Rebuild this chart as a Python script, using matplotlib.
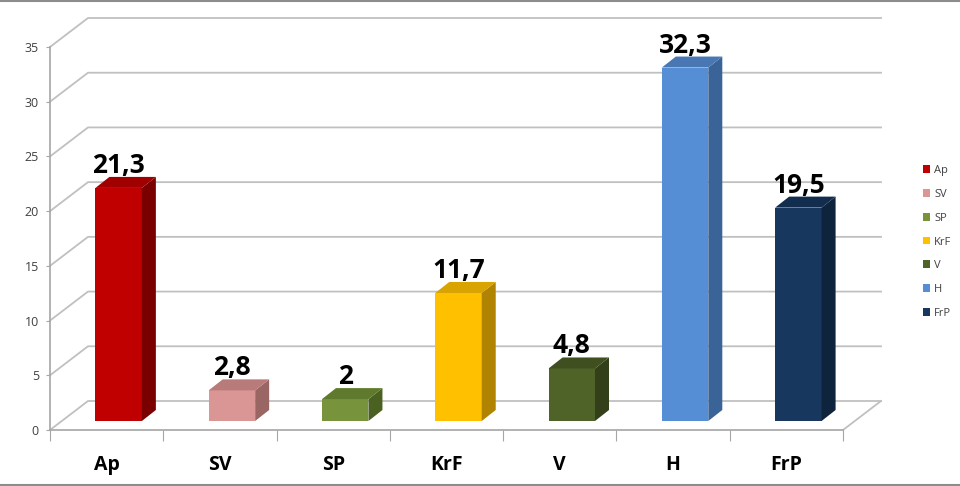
import matplotlib
matplotlib.use("Agg")
import matplotlib.pyplot as plt
from matplotlib.patches import Polygon, Patch
from matplotlib.lines import Line2D
from matplotlib.transforms import IdentityTransform, offset_copy

# ====== DATA ======
parties = ["Ap", "SV", "SP", "KrF", "V", "H", "FrP"]
values = [21.3, 2.8, 2.0, 11.7, 4.8, 32.3, 19.5]
value_labels = ["21,3", "2,8", "2", "11,7", "4,8", "32,3", "19,5"]
y_ticks = [0, 5, 10, 15, 20, 25, 30, 35]

front_colors = ["#C00000", "#D99694", "#77933C", "#FFC000", "#4F6228", "#558ED5", "#17375E"]
top_colors = ["#A00000", "#B87B79", "#5F7A2C", "#D9A300", "#3F4F1F", "#4877B4", "#122D4E"]
side_colors = ["#7A0000", "#9A6664", "#4B6122", "#B08400", "#333F18", "#3A6398", "#0E233C"]

# ====== STYLE ======
plt.rcParams['font.family'] = ['Open Sans', 'DejaVu Sans']
GRID = "#C0C0C0"
AXIS = "#A6A6A6"
TXT = "#404040"

WALL = (38, 29)        # depth of the back wall, px
BAR_SHIFT = (12, 9)    # front face of bars sits a bit back
BAR_DEPTH = (14, 11)   # depth of each bar, px
BAR_W = 0.41

fig = plt.figure(figsize=(9.6, 4.86), dpi=100)
ax = fig.add_axes([50 / 960, 56 / 486, 793 / 960, 383 / 486])
ax.set_xlim(0, len(parties))
ax.set_ylim(0, 35)
ax.patch.set_visible(False)

ident = IdentityTransform()


def disp(x, y, off=(0, 0)):
    X, Y = ax.transData.transform((x, y))
    return (X + off[0], Y + off[1])


# back wall gridlines + diagonals to the front axis
n = len(parties)
for t in y_ticks:
    p0 = disp(0, t)
    p1 = disp(0, t, WALL)
    p2 = disp(n, t, WALL)
    ax.add_line(Line2D([p0[0], p1[0], p2[0]], [p0[1], p1[1], p2[1]],
                       transform=ident, color=GRID, lw=1.3, zorder=1, clip_on=False))

# floor right edge
q0 = disp(n, 0)
q1 = disp(n, 0, WALL)
ax.add_line(Line2D([q0[0], q1[0]], [q0[1], q1[1]], transform=ident,
                   color=GRID, lw=1.3, zorder=1, clip_on=False))

# ====== BARS ======
centers = [i + 0.5 for i in range(n)]
front_tr = offset_copy(ax.transData, fig=fig, x=BAR_SHIFT[0], y=BAR_SHIFT[1], units='dots')
ax.bar(centers, values, width=BAR_W, color=front_colors, transform=front_tr,
       zorder=3, clip_on=False)

back_off = (BAR_SHIFT[0] + BAR_DEPTH[0], BAR_SHIFT[1] + BAR_DEPTH[1])
for c, v, tc, sc in zip(centers, values, top_colors, side_colors):
    l, r = c - BAR_W / 2, c + BAR_W / 2
    top = [disp(l, v, BAR_SHIFT), disp(r, v, BAR_SHIFT), disp(r, v, back_off), disp(l, v, back_off)]
    side = [disp(r, 0, BAR_SHIFT), disp(r, v, BAR_SHIFT), disp(r, v, back_off), disp(r, 0, back_off)]
    ax.add_patch(Polygon(side, closed=True, facecolor=sc, edgecolor='none',
                         transform=ident, zorder=3, clip_on=False))
    ax.add_patch(Polygon(top, closed=True, facecolor=tc, edgecolor='none',
                         transform=ident, zorder=3, clip_on=False))

label_tr = offset_copy(ax.transData, fig=fig, x=BAR_SHIFT[0], y=24, units='dots')
for c, v, lab in zip(centers, values, value_labels):
    ax.text(c, v, lab, transform=label_tr, ha='center', va='baseline',
            fontsize=19, fontweight='bold', color='black', zorder=5)

# ====== AXES ======
for s in ['top', 'right']:
    ax.spines[s].set_visible(False)
for s in ['left', 'bottom']:
    ax.spines[s].set_color(AXIS)
    ax.spines[s].set_linewidth(1.2)

ax.set_yticks(y_ticks)
ax.set_yticklabels([str(t) for t in y_ticks])
ax.tick_params(axis='y', length=3, color=AXIS, labelsize=9, labelcolor=TXT, pad=5)

ax.set_xticks(range(n + 1))
ax.set_xticklabels([])
ax.set_xticks(centers, minor=True)
ax.set_xticklabels(parties, minor=True, fontsize=14, fontweight='bold')
ax.tick_params(axis='x', which='major', length=8, color=AXIS)
ax.tick_params(axis='x', which='minor', length=0, pad=18)

# ====== LEGEND ======
handles = [Patch(facecolor=c, edgecolor='none') for c in front_colors]
leg = fig.legend(handles, parties, loc='center left', bbox_to_anchor=(917 / 960, 1 - 242 / 486),
                 bbox_transform=fig.transFigure, frameon=False, fontsize=8,
                 handlelength=0.7, handleheight=0.7, handletextpad=0.35,
                 labelspacing=1.15, borderpad=0)
for t in leg.get_texts():
    t.set_color(TXT)

# frame lines of the slide
fig.add_artist(Line2D([0, 1], [1 - 1 / 486, 1 - 1 / 486], color="#8C8C8C", lw=1.5))
fig.add_artist(Line2D([0, 1], [1 / 486, 1 / 486], color="#8C8C8C", lw=1.5))

fig.savefig("out.png", dpi=100)
